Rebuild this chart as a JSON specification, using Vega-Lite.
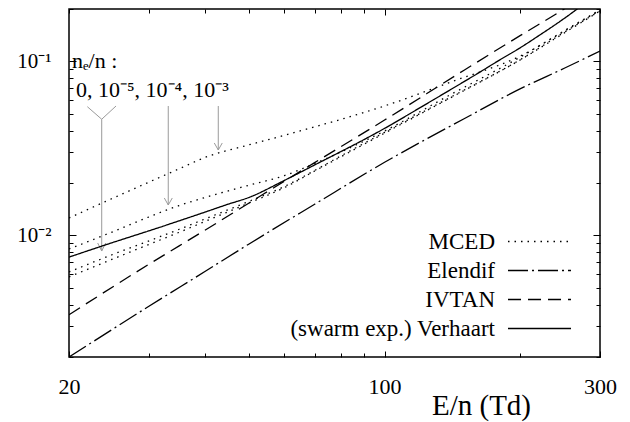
{
  "$schema": "https://vega.github.io/schema/vega-lite/v6.json",
  "width": 531,
  "height": 348,
  "autosize": {"type": "none"},
  "padding": {"left": 69, "top": 9, "right": 30, "bottom": 65},
  "background": "white",
  "config": {
    "view": {"stroke": "black", "strokeWidth": 1.5},
    "font": "Liberation Serif",
    "axis": {
      "domain": false,
      "grid": false,
      "tickColor": "black",
      "tickWidth": 1,
      "labelFont": "Liberation Serif",
      "labelColor": "black",
      "titleFont": "Liberation Serif",
      "titleColor": "black",
      "labelOverlap": false,
      "labelBound": false,
      "labelFlush": false
    }
  },
  "datasets": {
    "curves": [
      {"model": "MCED", "curve": "ne0", "E": 20, "value": 0.00577},
      {"model": "MCED", "curve": "ne0", "E": 25, "value": 0.00731},
      {"model": "MCED", "curve": "ne0", "E": 30, "value": 0.00885},
      {"model": "MCED", "curve": "ne0", "E": 35, "value": 0.01039},
      {"model": "MCED", "curve": "ne0", "E": 40, "value": 0.01202},
      {"model": "MCED", "curve": "ne0", "E": 50, "value": 0.01533},
      {"model": "MCED", "curve": "ne0", "E": 60, "value": 0.01882},
      {"model": "MCED", "curve": "ne0", "E": 70, "value": 0.02344},
      {"model": "MCED", "curve": "ne0", "E": 80, "value": 0.02829},
      {"model": "MCED", "curve": "ne0", "E": 100, "value": 0.0387},
      {"model": "MCED", "curve": "ne0", "E": 140, "value": 0.0618},
      {"model": "MCED", "curve": "ne0", "E": 200, "value": 0.1022},
      {"model": "MCED", "curve": "ne0", "E": 250, "value": 0.1457},
      {"model": "MCED", "curve": "ne0", "E": 300, "value": 0.1948},

      {"model": "MCED", "curve": "ne1e-5", "E": 20, "value": 0.00616},
      {"model": "MCED", "curve": "ne1e-5", "E": 25, "value": 0.00777},
      {"model": "MCED", "curve": "ne1e-5", "E": 30, "value": 0.00928},
      {"model": "MCED", "curve": "ne1e-5", "E": 35, "value": 0.01081},
      {"model": "MCED", "curve": "ne1e-5", "E": 40, "value": 0.01242},
      {"model": "MCED", "curve": "ne1e-5", "E": 50, "value": 0.01566},
      {"model": "MCED", "curve": "ne1e-5", "E": 60, "value": 0.0191},
      {"model": "MCED", "curve": "ne1e-5", "E": 70, "value": 0.0236},
      {"model": "MCED", "curve": "ne1e-5", "E": 80, "value": 0.0286},
      {"model": "MCED", "curve": "ne1e-5", "E": 100, "value": 0.0391},
      {"model": "MCED", "curve": "ne1e-5", "E": 140, "value": 0.0622},
      {"model": "MCED", "curve": "ne1e-5", "E": 200, "value": 0.1025},
      {"model": "MCED", "curve": "ne1e-5", "E": 250, "value": 0.147},
      {"model": "MCED", "curve": "ne1e-5", "E": 300, "value": 0.195},

      {"model": "MCED", "curve": "ne1e-4", "E": 20, "value": 0.00835},
      {"model": "MCED", "curve": "ne1e-4", "E": 25, "value": 0.01049},
      {"model": "MCED", "curve": "ne1e-4", "E": 30, "value": 0.01274},
      {"model": "MCED", "curve": "ne1e-4", "E": 35, "value": 0.01481},
      {"model": "MCED", "curve": "ne1e-4", "E": 40, "value": 0.01651},
      {"model": "MCED", "curve": "ne1e-4", "E": 50, "value": 0.0194},
      {"model": "MCED", "curve": "ne1e-4", "E": 60, "value": 0.02206},
      {"model": "MCED", "curve": "ne1e-4", "E": 70, "value": 0.02588},
      {"model": "MCED", "curve": "ne1e-4", "E": 80, "value": 0.03014},
      {"model": "MCED", "curve": "ne1e-4", "E": 100, "value": 0.0398},
      {"model": "MCED", "curve": "ne1e-4", "E": 140, "value": 0.0644},
      {"model": "MCED", "curve": "ne1e-4", "E": 200, "value": 0.106},
      {"model": "MCED", "curve": "ne1e-4", "E": 250, "value": 0.15},
      {"model": "MCED", "curve": "ne1e-4", "E": 300, "value": 0.1974},

      {"model": "MCED", "curve": "ne1e-3", "E": 20, "value": 0.01259},
      {"model": "MCED", "curve": "ne1e-3", "E": 25, "value": 0.01635},
      {"model": "MCED", "curve": "ne1e-3", "E": 30, "value": 0.02018},
      {"model": "MCED", "curve": "ne1e-3", "E": 35, "value": 0.02407},
      {"model": "MCED", "curve": "ne1e-3", "E": 40, "value": 0.02803},
      {"model": "MCED", "curve": "ne1e-3", "E": 50, "value": 0.03311},
      {"model": "MCED", "curve": "ne1e-3", "E": 60, "value": 0.03759},
      {"model": "MCED", "curve": "ne1e-3", "E": 70, "value": 0.04207},
      {"model": "MCED", "curve": "ne1e-3", "E": 80, "value": 0.0464},
      {"model": "MCED", "curve": "ne1e-3", "E": 100, "value": 0.05546},
      {"model": "MCED", "curve": "ne1e-3", "E": 140, "value": 0.076},
      {"model": "MCED", "curve": "ne1e-3", "E": 200, "value": 0.1075},
      {"model": "MCED", "curve": "ne1e-3", "E": 250, "value": 0.149},
      {"model": "MCED", "curve": "ne1e-3", "E": 300, "value": 0.197},

      {"model": "Elendif", "curve": "elendif", "E": 20, "value": 0.002},
      {"model": "Elendif", "curve": "elendif", "E": 30, "value": 0.0039},
      {"model": "Elendif", "curve": "elendif", "E": 40, "value": 0.0062},
      {"model": "Elendif", "curve": "elendif", "E": 50, "value": 0.0089},
      {"model": "Elendif", "curve": "elendif", "E": 70, "value": 0.0151},
      {"model": "Elendif", "curve": "elendif", "E": 100, "value": 0.0263},
      {"model": "Elendif", "curve": "elendif", "E": 150, "value": 0.0468},
      {"model": "Elendif", "curve": "elendif", "E": 200, "value": 0.0697},
      {"model": "Elendif", "curve": "elendif", "E": 250, "value": 0.0913},
      {"model": "Elendif", "curve": "elendif", "E": 300, "value": 0.1147},

      {"model": "IVTAN", "curve": "ivtan", "E": 20, "value": 0.0035},
      {"model": "IVTAN", "curve": "ivtan", "E": 30, "value": 0.0068},
      {"model": "IVTAN", "curve": "ivtan", "E": 40, "value": 0.0107},
      {"model": "IVTAN", "curve": "ivtan", "E": 50, "value": 0.0153},
      {"model": "IVTAN", "curve": "ivtan", "E": 70, "value": 0.0262},
      {"model": "IVTAN", "curve": "ivtan", "E": 100, "value": 0.046},
      {"model": "IVTAN", "curve": "ivtan", "E": 150, "value": 0.089},
      {"model": "IVTAN", "curve": "ivtan", "E": 200, "value": 0.141},
      {"model": "IVTAN", "curve": "ivtan", "E": 250, "value": 0.2},
      {"model": "IVTAN", "curve": "ivtan", "E": 300, "value": 0.27},

      {"model": "(swarm exp.) Verhaart", "curve": "verhaart", "E": 20, "value": 0.0075},
      {"model": "(swarm exp.) Verhaart", "curve": "verhaart", "E": 25, "value": 0.0091},
      {"model": "(swarm exp.) Verhaart", "curve": "verhaart", "E": 30, "value": 0.0106},
      {"model": "(swarm exp.) Verhaart", "curve": "verhaart", "E": 35, "value": 0.0121},
      {"model": "(swarm exp.) Verhaart", "curve": "verhaart", "E": 40, "value": 0.0136},
      {"model": "(swarm exp.) Verhaart", "curve": "verhaart", "E": 45, "value": 0.0151},
      {"model": "(swarm exp.) Verhaart", "curve": "verhaart", "E": 50, "value": 0.0165},
      {"model": "(swarm exp.) Verhaart", "curve": "verhaart", "E": 60, "value": 0.0207},
      {"model": "(swarm exp.) Verhaart", "curve": "verhaart", "E": 70, "value": 0.0254},
      {"model": "(swarm exp.) Verhaart", "curve": "verhaart", "E": 80, "value": 0.0303},
      {"model": "(swarm exp.) Verhaart", "curve": "verhaart", "E": 90, "value": 0.0355},
      {"model": "(swarm exp.) Verhaart", "curve": "verhaart", "E": 100, "value": 0.0412},
      {"model": "(swarm exp.) Verhaart", "curve": "verhaart", "E": 120, "value": 0.0543},
      {"model": "(swarm exp.) Verhaart", "curve": "verhaart", "E": 140, "value": 0.0688},
      {"model": "(swarm exp.) Verhaart", "curve": "verhaart", "E": 160, "value": 0.0846},
      {"model": "(swarm exp.) Verhaart", "curve": "verhaart", "E": 180, "value": 0.102},
      {"model": "(swarm exp.) Verhaart", "curve": "verhaart", "E": 200, "value": 0.12},
      {"model": "(swarm exp.) Verhaart", "curve": "verhaart", "E": 220, "value": 0.141},
      {"model": "(swarm exp.) Verhaart", "curve": "verhaart", "E": 240, "value": 0.164},
      {"model": "(swarm exp.) Verhaart", "curve": "verhaart", "E": 260, "value": 0.19},
      {"model": "(swarm exp.) Verhaart", "curve": "verhaart", "E": 280, "value": 0.22}
    ],
    "arrows": [
      {"x": 21.96, "y": 0.0549, "x2": 23.63, "y2": 0.0465},
      {"x": 25.42, "y": 0.0554, "x2": 23.63, "y2": 0.0465},
      {"x": 23.63, "y": 0.0465, "x2": 23.63, "y2": 0.00813},
      {"x": 23.15, "y": 0.00904, "x2": 23.63, "y2": 0.00813},
      {"x": 24.12, "y": 0.00904, "x2": 23.63, "y2": 0.00813},
      {"x": 33.18, "y": 0.0554, "x2": 33.18, "y2": 0.01495},
      {"x": 32.52, "y": 0.0164, "x2": 33.18, "y2": 0.01495},
      {"x": 33.87, "y": 0.0164, "x2": 33.18, "y2": 0.01495},
      {"x": 42.82, "y": 0.0554, "x2": 42.82, "y2": 0.03095},
      {"x": 41.96, "y": 0.03396, "x2": 42.82, "y2": 0.03095},
      {"x": 43.7, "y": 0.03396, "x2": 42.82, "y2": 0.03095}
    ],
    "notes": [
      {"text": "nₑ/n :", "x": 20.3, "y": 0.1},
      {"text": "0, 10⁻⁵, 10⁻⁴, 10⁻³", "x": 20.72, "y": 0.0685}
    ]
  },
  "layer": [
    {
      "data": {"name": "arrows"},
      "mark": {"type": "rule", "color": "#9a9a9a", "strokeWidth": 1},
      "encoding": {
        "x": {
          "field": "x", "type": "quantitative",
          "scale": {"type": "log", "domain": [20, 300]},
          "axis": {
            "orient": "top", "title": null, "labels": false,
            "values": [20, 30, 40, 50, 60, 70, 80, 90, 100, 200, 300],
            "tickSize": {"condition": {"test": "datum.value == 100", "value": -6}, "value": -4}
          }
        },
        "y": {
          "field": "y", "type": "quantitative",
          "scale": {"type": "log", "domain": [0.002, 0.2]},
          "axis": {
            "orient": "right", "title": null, "labels": false,
            "values": [0.002, 0.003, 0.004, 0.005, 0.006, 0.007, 0.008, 0.009, 0.01, 0.02, 0.03, 0.04, 0.05, 0.06, 0.07, 0.08, 0.09, 0.1, 0.2],
            "tickSize": {"condition": {"test": "datum.value == 0.1 || datum.value == 0.01", "value": -7}, "value": -4}
          }
        },
        "x2": {"field": "x2"},
        "y2": {"field": "y2"}
      }
    },
    {
      "data": {"name": "curves"},
      "mark": {"type": "line", "color": "black", "strokeWidth": 1.3, "interpolate": "monotone", "clip": true},
      "encoding": {
        "x": {
          "field": "E", "type": "quantitative",
          "scale": {"type": "log", "domain": [20, 300]},
          "axis": {
            "orient": "bottom",
            "values": [20, 30, 40, 50, 60, 70, 80, 90, 100, 200, 300],
            "labelExpr": "datum.value == 20 || datum.value == 100 || datum.value == 300 ? datum.label : ''",
            "labelFontSize": 22,
            "labelPadding": 25,
            "tickSize": {"condition": {"test": "datum.value == 20 || datum.value == 100 || datum.value == 300", "value": -6}, "value": -4},
            "title": "E/n (Td)",
            "titleFontSize": 29,
            "titleFontWeight": "normal",
            "titleX": 412,
            "titleY": 57,
            "titleAlign": "center",
            "titleBaseline": "alphabetic"
          }
        },
        "y": {
          "field": "value", "type": "quantitative",
          "scale": {"type": "log", "domain": [0.002, 0.2]},
          "axis": {
            "orient": "left",
            "title": null,
            "values": [0.002, 0.003, 0.004, 0.005, 0.006, 0.007, 0.008, 0.009, 0.01, 0.02, 0.03, 0.04, 0.05, 0.06, 0.07, 0.08, 0.09, 0.1, 0.2],
            "labelExpr": "datum.value == 0.1 ? '10⁻¹' : (datum.value == 0.01 ? '10⁻²' : '')",
            "labelFontSize": 21,
            "labelPadding": 25,
            "tickSize": {"condition": {"test": "datum.value == 0.1 || datum.value == 0.01", "value": -7}, "value": -4}
          }
        },
        "detail": {"field": "curve"},
        "strokeDash": {
          "field": "model", "type": "nominal",
          "scale": {
            "domain": ["MCED", "Elendif", "IVTAN", "(swarm exp.) Verhaart"],
            "range": [[1.5, 5], [20, 4, 2, 4], [13, 7], [1, 0]]
          },
          "legend": {
            "orient": "none",
            "legendX": 459,
            "legendY": 221,
            "title": null,
            "padding": 0,
            "symbolType": "M-4,0H4",
            "symbolSize": 248,
            "symbolStrokeWidth": 1.3,
            "symbolStrokeColor": "black",
            "labelAlign": "right",
            "labelOffset": -56,
            "labelFont": "Liberation Serif",
            "labelFontSize": 23,
            "labelColor": "black",
            "labelLimit": 400,
            "rowPadding": 5,
            "encode": {
              "symbols": {"update": {"stroke": {"value": "black"}, "strokeWidth": {"value": 1.3}, "opacity": {"value": 1}}}
            }
          }
        }
      }
    },
    {
      "data": {"name": "notes"},
      "mark": {"type": "text", "align": "left", "baseline": "middle", "font": "Liberation Serif", "fontSize": 22, "color": "black"},
      "encoding": {
        "x": {"field": "x", "type": "quantitative", "scale": {"type": "log", "domain": [20, 300]}, "axis": null},
        "y": {"field": "y", "type": "quantitative", "scale": {"type": "log", "domain": [0.002, 0.2]}, "axis": null},
        "text": {"field": "text"}
      }
    }
  ],
  "resolve": {"axis": {"x": "independent", "y": "independent"}}
}
